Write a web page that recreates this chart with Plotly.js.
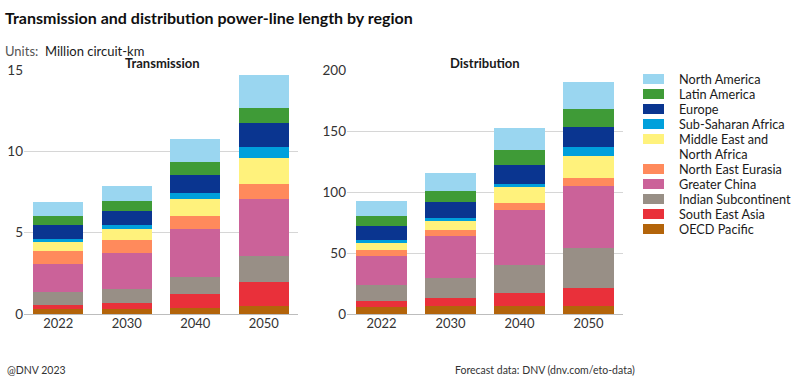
<!DOCTYPE html>
<html>
<head>
<meta charset="utf-8">
<script src="https://cdn.plot.ly/plotly-3.0.1.min.js"></script>
<style>
  html, body { margin: 0; padding: 0; background: #ffffff; }
  #chart { width: 800px; height: 383px; }
</style>
</head>
<body>
<div id="chart"></div>
<script>
// ---- Data (Million circuit-km) ----
const years = ['2022', '2030', '2040', '2050'];

// Legend order (top to bottom); stacking is bottom-up in reverse
const regionNames = ['North America', 'Latin America', 'Europe', 'Sub-Saharan Africa',
  'Middle East and North Africa', 'North East Eurasia', 'Greater China',
  'Indian Subcontinent', 'South East Asia', 'OECD Pacific'];
// Legend text lines per entry (MENA wraps onto two lines)
const legendLines = [['North America'], ['Latin America'], ['Europe'], ['Sub-Saharan Africa'],
  ['Middle East and', 'North Africa'], ['North East Eurasia'], ['Greater China'],
  ['Indian Subcontinent'], ['South East Asia'], ['OECD Pacific']];
const regionColors = ['#9ad6f0', '#3f9b37', '#0a3590', '#00a0dc', '#fff27c',
  '#ff8a5c', '#cb6299', '#988f86', '#e9303a', '#b3640a'];

// Transmission
const transNorthAmerica  = [0.86, 0.92, 1.37, 1.98];
const transLatinAmerica  = [0.58, 0.60, 0.80, 0.94];
const transEurope        = [0.84, 0.86, 1.12, 1.50];
const transSubSaharan    = [0.22, 0.24, 0.37, 0.67];
const transMENA          = [0.53, 0.68, 1.04, 1.60];
const transNEEurasia     = [0.78, 0.80, 0.82, 0.90];
const transGreaterChina  = [1.72, 2.23, 2.95, 3.50];
const transIndianSub     = [0.82, 0.81, 1.06, 1.64];
const transSEAsia        = [0.24, 0.39, 0.82, 1.47];
const transOECDPacific   = [0.31, 0.31, 0.39, 0.47];

// Distribution
const distNorthAmerica  = [12.3, 14.7, 18.1, 22.1];
const distLatinAmerica  = [7.9, 9.3, 12.2, 15.0];
const distEurope        = [11.7, 13.4, 15.3, 16.6];
const distSubSaharan    = [2.2, 1.9, 3.0, 6.8];
const distMENA          = [5.7, 7.9, 12.8, 18.6];
const distNEEurasia     = [5.0, 4.7, 5.8, 6.3];
const distGreaterChina  = [24.0, 34.3, 44.7, 50.7];
const distIndianSub     = [12.8, 16.4, 23.5, 32.7];
const distSEAsia        = [5.2, 6.8, 10.1, 14.8];
const distOECDPacific   = [5.7, 6.3, 6.8, 6.8];

const yTicksTrans = [0, 5, 10, 15];
const yTicksDist = [0, 50, 100, 150, 200];

const transSeries = [transNorthAmerica, transLatinAmerica, transEurope, transSubSaharan,
  transMENA, transNEEurasia, transGreaterChina, transIndianSub, transSEAsia, transOECDPacific];
const distSeries = [distNorthAmerica, distLatinAmerica, distEurope, distSubSaharan,
  distMENA, distNEEurasia, distGreaterChina, distIndianSub, distSEAsia, distOECDPacific];

// ---- Build traces (bottom-up stacking: OECD Pacific first) ----
const traces = [];
for (let i = regionNames.length - 1; i >= 0; i--) {
  traces.push({
    type: 'bar', x: years, y: transSeries[i], name: regionNames[i],
    marker: { color: regionColors[i], line: { width: 0 } },
    xaxis: 'x', yaxis: 'y', showlegend: false, hoverinfo: 'x+y+name'
  });
  traces.push({
    type: 'bar', x: years, y: distSeries[i], name: regionNames[i],
    marker: { color: regionColors[i], line: { width: 0 } },
    xaxis: 'x2', yaxis: 'y2', showlegend: false, hoverinfo: 'x+y+name'
  });
}

const W = 800, H = 383;
const px = v => v / W;
const py = v => 1 - v / H;
const FONT = 'Lato, "Noto Sans", sans-serif';

// ---- Custom legend (shapes + annotations) ----
const shapes = [];
const annotations = [];
const legendRowY = [79, 94, 109, 124, 139, 169, 184, 199, 214, 229];
const legendLineGap = 15;
for (let i = 0; i < regionNames.length; i++) {
  const cy = legendRowY[i];
  shapes.push({
    type: 'rect', xref: 'paper', yref: 'paper',
    x0: px(643), x1: px(664), y0: py(cy + 5), y1: py(cy - 5),
    fillcolor: regionColors[i], line: { width: 0 }
  });
  legendLines[i].forEach((line, j) => {
    annotations.push({
      xref: 'paper', yref: 'paper', x: px(678), y: py(cy + j * legendLineGap),
      xanchor: 'left', yanchor: 'middle', align: 'left', showarrow: false,
      borderpad: 0,
      text: line, font: { family: FONT, size: 12.7, color: '#1a1a1a' }
    });
  });
}

annotations.push(
  { xref: 'paper', yref: 'paper', x: px(3), y: py(17), xanchor: 'left', yanchor: 'middle',
    showarrow: false, text: '<b>Transmission and distribution power-line length by region</b>',
    font: { family: FONT, size: 16, color: '#0f0f0f' } },
  { xref: 'paper', yref: 'paper', x: px(3), y: py(51), xanchor: 'left', yanchor: 'middle',
    showarrow: false, text: '<span style="color:#555555">Units:</span>  Million circuit-km',
    font: { family: FONT, size: 13, color: '#1a1a1a' } },
  { xref: 'paper', yref: 'paper', x: px(162), y: py(63), xanchor: 'center', yanchor: 'middle',
    showarrow: false, text: '<b>Transmission</b>',
    font: { family: FONT, size: 13, color: '#1a1a1a' } },
  { xref: 'paper', yref: 'paper', x: px(485), y: py(63), xanchor: 'center', yanchor: 'middle',
    showarrow: false, text: '<b>Distribution</b>',
    font: { family: FONT, size: 13, color: '#1a1a1a' } },
  { xref: 'paper', yref: 'paper', x: px(5), y: py(370), xanchor: 'left', yanchor: 'middle',
    showarrow: false, text: '@DNV 2023',
    font: { family: FONT, size: 10.5, color: '#333333' } },
  { xref: 'paper', yref: 'paper', x: px(453), y: py(370), xanchor: 'left', yanchor: 'middle',
    showarrow: false, text: 'Forecast data: DNV (dnv.com/eto-data)',
    font: { family: FONT, size: 10.5, color: '#333333' } }
);

const yDomain = [py(314), py(70)];

const layout = {
  width: W, height: H,
  margin: { l: 0, r: 0, t: 0, b: 0, pad: 0 },
  paper_bgcolor: '#ffffff', plot_bgcolor: '#ffffff',
  barmode: 'stack', bargap: 0.27,
  showlegend: false,
  font: { family: FONT, size: 12.5, color: '#333333' },
  xaxis: {
    domain: [px(24), px(298)], type: 'category', anchor: 'y',
    showgrid: false, showline: false, zeroline: false, ticks: '',
    tickfont: { family: FONT, size: 13, color: '#333333' }, automargin: false
  },
  yaxis: {
    domain: yDomain, range: [0, 15], tickvals: yTicksTrans, anchor: 'x',
    showgrid: true, gridcolor: '#d6d6d6', gridwidth: 1,
    zeroline: true, zerolinecolor: '#bdbdbd', zerolinewidth: 1,
    showline: false, ticks: '', automargin: false,
    tickfont: { family: FONT, size: 13.5, color: '#333333' }
  },
  xaxis2: {
    domain: [px(347), px(623)], type: 'category', anchor: 'y2',
    showgrid: false, showline: false, zeroline: false, ticks: '',
    tickfont: { family: FONT, size: 13, color: '#333333' }, automargin: false
  },
  yaxis2: {
    domain: yDomain, range: [0, 200], tickvals: yTicksDist, anchor: 'x2',
    showgrid: true, gridcolor: '#d6d6d6', gridwidth: 1,
    zeroline: true, zerolinecolor: '#bdbdbd', zerolinewidth: 1,
    showline: false, ticks: '', automargin: false,
    tickfont: { family: FONT, size: 13.5, color: '#333333' }
  },
  shapes: shapes,
  annotations: annotations
};

Plotly.newPlot('chart', traces, layout, { staticPlot: true, displayModeBar: false });
</script>
</body>
</html>
